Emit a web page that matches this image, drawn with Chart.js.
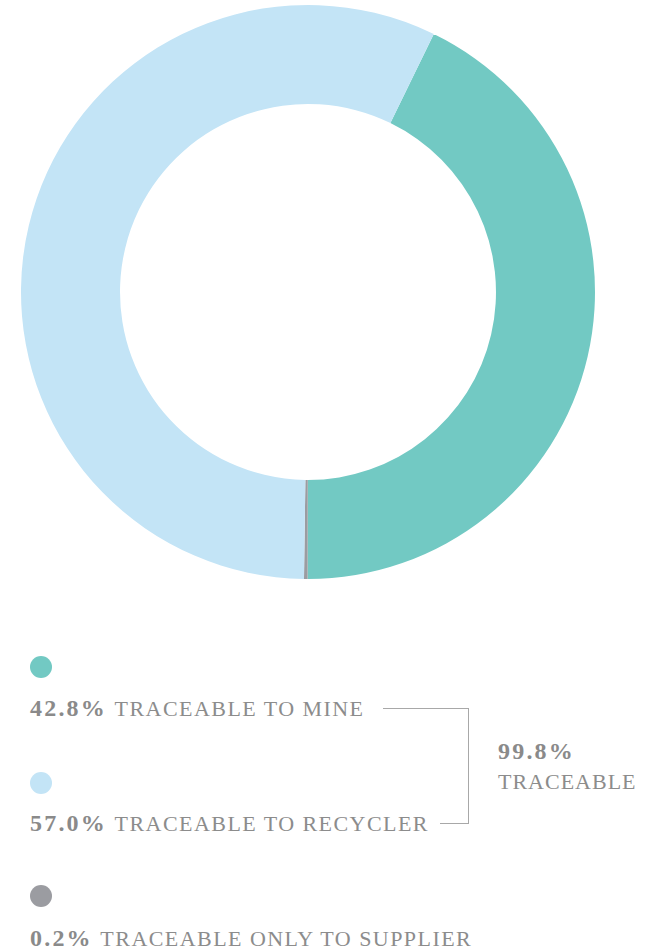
<!DOCTYPE html>
<html>
<head>
<meta charset="utf-8">
<script src="https://cdn.jsdelivr.net/npm/chart.js@4.4.1/dist/chart.umd.min.js"></script>
<style>
  html, body { margin: 0; padding: 0; background: #fff; }
  body { width: 654px; height: 951px; position: relative; overflow: hidden; font-family: "Liberation Serif", "DejaVu Serif", serif; }
  #wrap { position: absolute; left: 0; top: 0; width: 616px; height: 584px; }
  .dot { position: absolute; left: 30px; width: 22px; height: 22px; border-radius: 50%; }
  .row { position: absolute; left: 30px; font-size: 22px; line-height: 22px; color: #8c8c8c; letter-spacing: 1.45px; white-space: nowrap; }
  .row b, .total b { font-size: 24px; color: #8a8a8a; letter-spacing: 2.2px; margin-right: 1px; }
  .brk { position: absolute; border-color: #a8a8a8; border-style: solid; border-width: 0; }
  .total { position: absolute; left: 498px; font-size: 22px; line-height: 30px; color: #8c8c8c; letter-spacing: 1px; }
</style>
</head>
<body>
<div id="wrap"><canvas id="donut"></canvas></div>
<div id="legend"></div>
<div class="brk" style="left:383px; top:708px; width:85px; height:115px; border-top-width:1px; border-right-width:1px;"></div>
<div class="brk" style="left:440px; top:823px; width:29px; height:0; border-top-width:1px;"></div>
<div class="total" style="top:736px;"><b>99.8%</b><br>TRACEABLE</div>
<script>
const labels = ['TRACEABLE TO MINE', 'TRACEABLE ONLY TO SUPPLIER', 'TRACEABLE TO RECYCLER'];
const values = [42.8, 0.2, 57.0];
const colors = ['#72c9c3', '#9b9ca1', '#c3e4f6'];

// legend order as printed under the chart
const legendOrder = [0, 2, 1];
const legendDotTop = [656, 772, 885];
const legendTextTop = [697, 812, 927];

const legend = document.getElementById('legend');
legendOrder.forEach((i, k) => {
  const dot = document.createElement('div');
  dot.className = 'dot';
  dot.style.top = legendDotTop[k] + 'px';
  dot.style.background = colors[i];
  legend.appendChild(dot);
  const row = document.createElement('div');
  row.className = 'row';
  row.style.top = legendTextTop[k] + 'px';
  row.innerHTML = '<b>' + values[i].toFixed(1) + '%</b> ' + labels[i];
  legend.appendChild(row);
});

new Chart(document.getElementById('donut'), {
  type: 'doughnut',
  data: {
    labels: labels,
    datasets: [{ data: values, backgroundColor: colors, borderWidth: 0 }],
  },
  options: {
    responsive: true,
    maintainAspectRatio: false,
    animation: false,
    rotation: 26,
    cutout: '65.5%',
    layout: { padding: 5 },
    plugins: { legend: { display: false }, tooltip: { enabled: false } },
  },
});
</script>
</body>
</html>
